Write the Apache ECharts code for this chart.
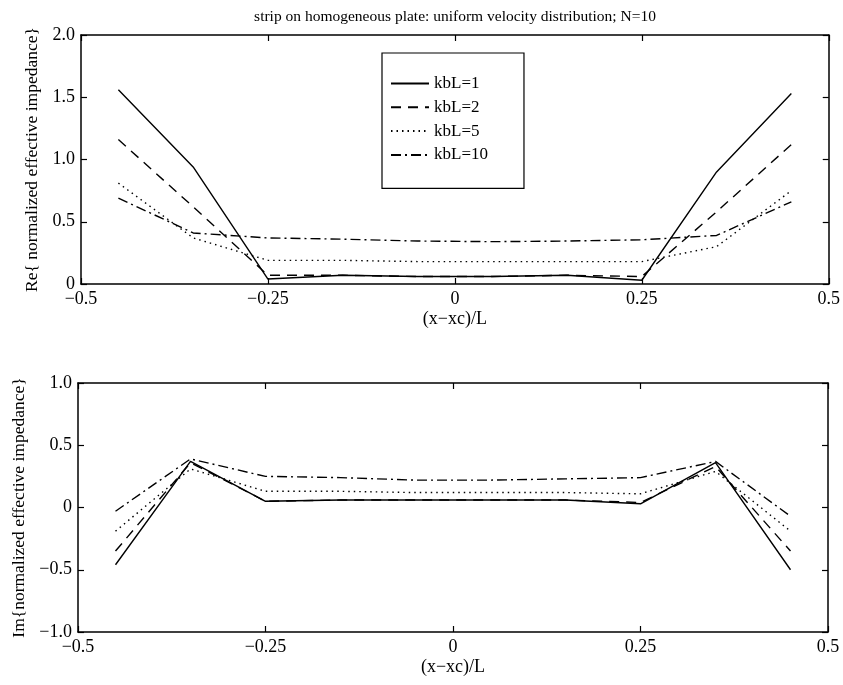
<!DOCTYPE html>
<html>
<head>
<meta charset="utf-8">
<title>strip on homogeneous plate</title>
<script src="https://cdn.jsdelivr.net/npm/echarts@6/dist/echarts.min.js"></script>
<style>
  html, body { margin: 0; padding: 0; background: #fff; }
  #chart { width: 843px; height: 685px; }
</style>
</head>
<body>
<div id="chart"></div>
<script>
// element positions (x-xc)/L, N=10
const xPos = [-0.45, -0.35, -0.25, -0.15, -0.05, 0.05, 0.15, 0.25, 0.35, 0.45];

const seriesNames = ['kbL=1', 'kbL=2', 'kbL=5', 'kbL=10'];

const reK1  = [1.56, 0.94, 0.04, 0.07, 0.06, 0.06, 0.07, 0.03, 0.90, 1.53];
const reK2  = [1.16, 0.62, 0.07, 0.07, 0.06, 0.06, 0.07, 0.06, 0.58, 1.12];
const reK5  = [0.81, 0.37, 0.19, 0.19, 0.18, 0.18, 0.18, 0.18, 0.30, 0.75];
const reK10 = [0.69, 0.41, 0.37, 0.36, 0.345, 0.34, 0.345, 0.355, 0.39, 0.66];

// imaginary part
const imK1  = [-0.46, 0.37, 0.05, 0.06, 0.06, 0.06, 0.06, 0.03, 0.36, -0.50];
const imK2  = [-0.35, 0.36, 0.05, 0.06, 0.06, 0.06, 0.06, 0.04, 0.33, -0.35];
const imK5  = [-0.19, 0.31, 0.13, 0.13, 0.12, 0.12, 0.12, 0.11, 0.29, -0.19];
const imK10 = [-0.03, 0.39, 0.25, 0.24, 0.22, 0.22, 0.23, 0.24, 0.37, -0.07];

// tick labels
const xTicks = [-0.5, -0.25, 0, 0.25, 0.5];
const xTickLabels = ['\u22120.5', '\u22120.25', '0', '0.25', '0.5'];
const reTickLabels = ['0', '0.5', '1.0', '1.5', '2.0'];
const imTickLabels = ['\u22121.0', '\u22120.5', '0', '0.5', '1.0'];

const FONT = '"Liberation Serif", "Times New Roman", serif';
const lineTypes = ['solid', [10, 7], [1.5, 4], [10, 4, 2, 4]];

const chart = echarts.init(document.getElementById('chart'));

const xLabel = (v) => {
  const i = xTicks.findIndex(t => Math.abs(t - v) < 1e-9);
  return i >= 0 ? xTickLabels[i] : '';
};
const reLabel = (v) => reTickLabels[Math.round(v / 0.5)] || '';
const imLabel = (v) => imTickLabels[Math.round((v + 1) / 0.5)] || '';

function xAxisFor(gridIndex, bottom) {
  return {
    type: 'value', gridIndex: gridIndex, min: -0.5, max: 0.5, interval: 0.25,
    position: bottom ? 'bottom' : 'top',
    name: bottom ? '(x\u2212xc)/L' : '', nameLocation: 'middle', nameGap: 26,
    nameTextStyle: { fontFamily: FONT, fontSize: 18, color: '#000' },
    axisLine: { show: true, onZero: false, lineStyle: { color: '#000', width: 1.5 } },
    axisTick: { show: true, inside: true, length: 6, lineStyle: { color: '#000', width: 1.2 } },
    axisLabel: { show: bottom, formatter: xLabel, margin: 6,
      fontFamily: FONT, fontSize: 18, color: '#000' },
    splitLine: { show: false }
  };
}

function yAxisFor(gridIndex, left, min, max, name, fmt) {
  return {
    type: 'value', gridIndex: gridIndex, min: min, max: max, interval: 0.5,
    position: left ? 'left' : 'right',
    name: left ? name : '', nameLocation: 'middle', nameGap: 36,
    nameTextStyle: { fontFamily: FONT, fontSize: 17.5, color: '#000' },
    axisLine: { show: true, onZero: false, lineStyle: { color: '#000', width: 1.5 } },
    axisTick: { show: true, inside: true, length: 6, lineStyle: { color: '#000', width: 1.2 } },
    axisLabel: { show: left, formatter: fmt, margin: 6,
      fontFamily: FONT, fontSize: 18, color: '#000' },
    splitLine: { show: false }
  };
}

const reData = [reK1, reK2, reK5, reK10];
const imData = [imK1, imK2, imK5, imK10];

const series = [];
seriesNames.forEach((name, i) => {
  series.push({
    name: name, type: 'line', xAxisIndex: 0, yAxisIndex: 0,
    data: xPos.map((x, j) => [x, reData[i][j]]),
    symbol: 'none', showSymbol: false, silent: true, animation: false,
    lineStyle: { color: '#000', width: 1.4, type: lineTypes[i] },
    itemStyle: { color: '#000' }
  });
  series.push({
    name: name, type: 'line', xAxisIndex: 2, yAxisIndex: 2,
    data: xPos.map((x, j) => [x, imData[i][j]]),
    symbol: 'none', showSymbol: false, silent: true, animation: false,
    lineStyle: { color: '#000', width: 1.4, type: lineTypes[i] },
    itemStyle: { color: '#000' }
  });
});

const option = {
  backgroundColor: '#fff',
  animation: false,
  title: {
    text: 'strip on homogeneous plate: uniform velocity distribution; N=10',
    left: 450, textAlign: 'center', top: 4,
    textStyle: { fontFamily: FONT, fontSize: 15.5, fontWeight: 'normal', color: '#000' }
  },
  legend: {
    data: seriesNames,
    orient: 'vertical',
    left: 382, top: 53,
    padding: [22, 36, 25, 8],
    itemWidth: 38, itemHeight: 14, itemGap: 6.8,
    itemStyle: { opacity: 0 },
    backgroundColor: '#fff',
    borderColor: '#000', borderWidth: 1.2, borderRadius: 0,
    selectedMode: false,
    textStyle: { fontFamily: FONT, fontSize: 17, color: '#000' }
  },
  grid: [
    { left: 81, top: 35, width: 750, height: 249, containLabel: false },
    { left: 78, top: 383, width: 750, height: 249, containLabel: false }
  ],
  xAxis: [xAxisFor(0, true), xAxisFor(0, false), xAxisFor(1, true), xAxisFor(1, false)],
  yAxis: [
    yAxisFor(0, true, 0, 2, 'Re{ normalized effective impedance}', reLabel),
    yAxisFor(0, false, 0, 2, '', reLabel),
    yAxisFor(1, true, -1, 1, 'Im{normalized effective impedance}', imLabel),
    yAxisFor(1, false, -1, 1, '', imLabel)
  ],
  series: series
};

chart.setOption(option);
</script>
</body>
</html>
